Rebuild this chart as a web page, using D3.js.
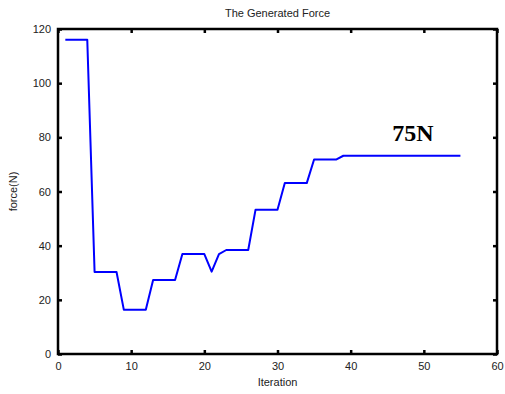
<!DOCTYPE html>
<html>
<head>
<meta charset="utf-8">
<script src="https://cdn.jsdelivr.net/npm/d3@7"></script>
<style>
  body { margin: 0; background: #fff; }
  text { font-family: Arial, "Liberation Sans", sans-serif; }
</style>
</head>
<body>
<script>
// iteration vs generated force
const iterations = d3.range(1, 56);
const force = [
  116, 116, 116, 116,
  30.3, 30.3, 30.3, 30.3,
  16.3, 16.3, 16.3, 16.3,
  27.3, 27.3, 27.3, 27.3,
  36.9, 36.9, 36.9, 36.9,
  30.4, 36.9,
  38.4, 38.4, 38.4, 38.4,
  53.3, 53.3, 53.3, 53.3,
  63.1, 63.1, 63.1, 63.1,
  71.8, 71.8, 71.8, 71.8,
  73.2, 73.2, 73.2, 73.2, 73.2, 73.2, 73.2, 73.2, 73.2, 73.2,
  73.2, 73.2, 73.2, 73.2, 73.2, 73.2, 73.2
];
const xTicks = [0, 10, 20, 30, 40, 50, 60];
const yTicks = [0, 20, 40, 60, 80, 100, 120];

const W = 505, H = 394;
const m = { left: 58, right: 8, top: 29, bottom: 40 };

const svg = d3.select('body').append('svg')
    .attr('width', W).attr('height', H);

const x = d3.scaleLinear().domain([0, 60]).range([m.left, W - m.right]);
const y = d3.scaleLinear().domain([0, 120]).range([H - m.bottom, m.top]);

// tick marks on all four sides, pointing inward
svg.append('g')
    .attr('transform', `translate(0,${y(0)})`)
    .call(d3.axisBottom(x).tickValues(xTicks).tickSizeInner(-4).tickSizeOuter(0).tickPadding(8))
    .call(g => g.select('.domain').remove());
svg.append('g')
    .attr('transform', `translate(0,${y(120)})`)
    .call(d3.axisTop(x).tickValues(xTicks).tickSizeInner(-4).tickSizeOuter(0).tickFormat(''))
    .call(g => g.select('.domain').remove());
svg.append('g')
    .attr('transform', `translate(${x(0)},0)`)
    .call(d3.axisLeft(y).tickValues(yTicks).tickSizeInner(-4).tickSizeOuter(0).tickPadding(7))
    .call(g => g.select('.domain').remove());
svg.append('g')
    .attr('transform', `translate(${x(60)},0)`)
    .call(d3.axisRight(y).tickValues(yTicks).tickSizeInner(-4).tickSizeOuter(0).tickFormat(''))
    .call(g => g.select('.domain').remove());

svg.selectAll('.tick line').attr('stroke', '#000').attr('stroke-width', 2.5);
svg.selectAll('.tick text').style('font-size', '11px').style('fill', '#222');

// frame
svg.append('rect')
    .attr('x', x(0)).attr('y', y(120))
    .attr('width', x(60) - x(0)).attr('height', y(0) - y(120))
    .attr('fill', 'none').attr('stroke', '#000').attr('stroke-width', 2.5);

const line = d3.line()
    .x((d, i) => x(iterations[i]))
    .y(d => y(d));

svg.append('path')
    .datum(force)
    .attr('fill', 'none')
    .attr('stroke', '#0000ff')
    .attr('stroke-width', 2)
    .attr('stroke-linejoin', 'round')
    .attr('d', line);

svg.append('text')
    .attr('x', (x(0) + x(60)) / 2).attr('y', 17)
    .attr('text-anchor', 'middle')
    .style('font-size', '11px').style('fill', '#222')
    .text('The Generated Force');

svg.append('text')
    .attr('x', (x(0) + x(60)) / 2).attr('y', 386)
    .attr('text-anchor', 'middle')
    .style('font-size', '11px').style('fill', '#222')
    .text('Iteration');

svg.append('text')
    .attr('transform', `translate(17,${(y(0) + y(120)) / 2}) rotate(-90)`)
    .attr('text-anchor', 'middle')
    .style('font-size', '11px').style('fill', '#222')
    .text('force(N)');

svg.append('text')
    .attr('x', x(48.5)).attr('y', 141)
    .attr('text-anchor', 'middle')
    .style('font-family', '"Liberation Serif", "Times New Roman", serif')
    .style('font-weight', 'bold')
    .style('font-size', '24px')
    .style('fill', '#000')
    .text('75N');
</script>
</body>
</html>
